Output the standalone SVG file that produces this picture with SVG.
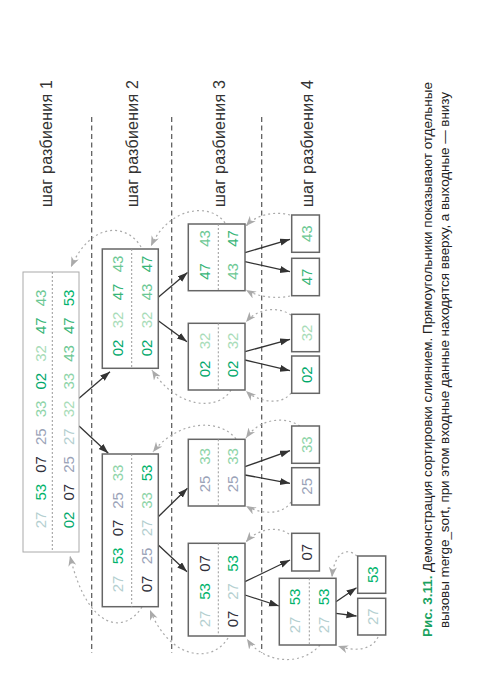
<svg xmlns="http://www.w3.org/2000/svg" width="500" height="700" viewBox="0 0 500 700">
<style>
.n{font-family:"Liberation Sans",Arial,sans-serif;font-size:15px;text-anchor:middle;dominant-baseline:central}
.lbl{font-family:"Liberation Sans",Arial,sans-serif;font-size:16px;fill:#333}
.cap{font-family:"Liberation Sans",Arial,sans-serif;font-size:13.5px;fill:#222}
.b1{fill:#fff;stroke:#aaa;stroke-width:1}
.b{fill:#fff;stroke:#666;stroke-width:1.5}
.dv{stroke:#999;stroke-width:1;stroke-dasharray:2 2}
.sep{stroke:#555;stroke-width:1.2;stroke-dasharray:5 3.5;fill:none}
.ar{stroke:#333;stroke-width:1.3;fill:none;marker-end:url(#ah)}
.rt{stroke:#aaa;stroke-width:1.2;stroke-dasharray:2 3;fill:none;marker-end:url(#gh)}
.c02{fill:#00a86b}.c07{fill:#2f2f3a}.c25{fill:#9aa3b8}.c27{fill:#b4cfd0}.c32{fill:#a8dcb8}.c33{fill:#8ed4a8}.c43{fill:#6cc894}.c47{fill:#36b577}.c53{fill:#00b36b}
</style>
<defs>
<marker id="ah" markerUnits="userSpaceOnUse" markerWidth="11" markerHeight="8" refX="10" refY="3.5" orient="auto"><path d="M0,0 L10,3.5 L0,7 z" fill="#333"/></marker>
<marker id="gh" markerUnits="userSpaceOnUse" markerWidth="11" markerHeight="9" refX="10" refY="4" orient="auto"><path d="M0,0 L10,4 L0,8 L3,4 z" fill="#aaa"/></marker>
</defs>
<rect width="500" height="700" fill="#fff"/>
<g id="separators">
<line class="sep" x1="91.7" y1="117" x2="91.7" y2="653"/>
<line class="sep" x1="171.7" y1="117" x2="171.7" y2="653"/>
<line class="sep" x1="261.7" y1="117" x2="261.7" y2="653"/>
</g>
<g id="labels">
<text class="lbl" transform="translate(51.7,207) rotate(-90)" textLength="127">шаг разбиения 1</text>
<text class="lbl" transform="translate(138.3,207) rotate(-90)" textLength="127">шаг разбиения 2</text>
<text class="lbl" transform="translate(225,207) rotate(-90)" textLength="127">шаг разбиения 3</text>
<text class="lbl" transform="translate(313.3,207) rotate(-90)" textLength="127">шаг разбиения 4</text>
</g>
<g id="connectors">
<path class="ar" d="M79,398.3 L110,371.7"/>
<path class="ar" d="M79,426 L108.3,453.3"/>
<path class="ar" d="M158.3,297.3 L187.5,272.5"/>
<path class="ar" d="M158.3,320.7 L187,341.7"/>
<path class="ar" d="M158.3,516.7 L187.5,488.3"/>
<path class="ar" d="M158.3,545 L187,571.7"/>
<path class="ar" d="M245,252.7 L290,239.3"/>
<path class="ar" d="M245,261.7 L290,271.7"/>
<path class="ar" d="M245,351.7 L290,339.3"/>
<path class="ar" d="M245,360 L290,370.7"/>
<path class="ar" d="M245,466.7 L290,450.7"/>
<path class="ar" d="M245,475 L290,483.3"/>
<path class="ar" d="M245,581.7 L290,560"/>
<path class="ar" d="M245,595 L279,606"/>
<path class="ar" d="M336,601.7 L356.5,587.7"/>
<path class="ar" d="M336,613.3 L356.5,616"/>
<path class="rt" d="M141,247 C128,224 92,220 71,267"/>
<path class="rt" d="M225,223 C212,203 170,205 151,246"/>
<path class="rt" d="M290,215 C275,211 257,214 246,226"/>
<path class="rt" d="M290,296 C276,299 258,297 246,290"/>
<path class="rt" d="M291,315 C278,306 258,308 246,322"/>
<path class="rt" d="M291,393 C282,406 258,402 246,391"/>
<path class="rt" d="M231,390 C218,412 176,408 152,370"/>
<path class="rt" d="M236,439 C220,418 178,420 153,452"/>
<path class="rt" d="M300,426 C285,416 260,418 246,438"/>
<path class="rt" d="M291,502 C282,516 260,514 246,506"/>
<path class="rt" d="M289,534 C278,526 258,528 246,542"/>
<path class="rt" d="M357,556 C346,546 334,554 332,577"/>
<path class="rt" d="M378,637 C372,650 355,652 338,646"/>
<path class="rt" d="M320,645 C300,668 262,662 247,639"/>
<path class="rt" d="M228,638 C212,664 170,660 150,610"/>
<path class="rt" d="M142,607 C125,634 88,632 70,556"/>
</g>
<g id="n1">
<rect class="b1" x="23" y="272" width="56" height="280"/>
<line class="dv" x1="52.3" y1="272" x2="52.3" y2="552"/>
<text class="n c27" transform="translate(40,520) rotate(-90)">27</text>
<text class="n c53" transform="translate(40,492.25) rotate(-90)">53</text>
<text class="n c07" transform="translate(40,464.5) rotate(-90)">07</text>
<text class="n c25" transform="translate(40,436.75) rotate(-90)">25</text>
<text class="n c33" transform="translate(40,409) rotate(-90)">33</text>
<text class="n c02" transform="translate(40,381.25) rotate(-90)">02</text>
<text class="n c32" transform="translate(40,353.5) rotate(-90)">32</text>
<text class="n c47" transform="translate(40,325.75) rotate(-90)">47</text>
<text class="n c43" transform="translate(40,298) rotate(-90)">43</text>
<text class="n c02" transform="translate(68.5,520) rotate(-90)">02</text>
<text class="n c07" transform="translate(68.5,492.25) rotate(-90)">07</text>
<text class="n c25" transform="translate(68.5,464.5) rotate(-90)">25</text>
<text class="n c27" transform="translate(68.5,436.75) rotate(-90)">27</text>
<text class="n c32" transform="translate(68.5,409) rotate(-90)">32</text>
<text class="n c33" transform="translate(68.5,381.25) rotate(-90)">33</text>
<text class="n c43" transform="translate(68.5,353.5) rotate(-90)">43</text>
<text class="n c47" transform="translate(68.5,325.75) rotate(-90)">47</text>
<text class="n c53" transform="translate(68.5,298) rotate(-90)">53</text>
</g>
<g id="n2a">
<rect class="b" x="102.3" y="249" width="56" height="119.3"/>
<line class="dv" x1="131.7" y1="249" x2="131.7" y2="368.3"/>
<text class="n c02" transform="translate(117.5,348) rotate(-90)">02</text>
<text class="n c32" transform="translate(117.5,320) rotate(-90)">32</text>
<text class="n c47" transform="translate(117.5,292) rotate(-90)">47</text>
<text class="n c43" transform="translate(117.5,264) rotate(-90)">43</text>
<text class="n c02" transform="translate(146,348) rotate(-90)">02</text>
<text class="n c32" transform="translate(146,320) rotate(-90)">32</text>
<text class="n c43" transform="translate(146,292) rotate(-90)">43</text>
<text class="n c47" transform="translate(146,264) rotate(-90)">47</text>
</g>
<g id="n2b">
<rect class="b" x="102.3" y="454" width="56" height="152.7"/>
<line class="dv" x1="131.7" y1="454" x2="131.7" y2="606.7"/>
<text class="n c27" transform="translate(117.5,584) rotate(-90)">27</text>
<text class="n c53" transform="translate(117.5,556) rotate(-90)">53</text>
<text class="n c07" transform="translate(117.5,528) rotate(-90)">07</text>
<text class="n c25" transform="translate(117.5,500.5) rotate(-90)">25</text>
<text class="n c33" transform="translate(117.5,473) rotate(-90)">33</text>
<text class="n c07" transform="translate(146,584) rotate(-90)">07</text>
<text class="n c25" transform="translate(146,556) rotate(-90)">25</text>
<text class="n c27" transform="translate(146,528) rotate(-90)">27</text>
<text class="n c33" transform="translate(146,500.5) rotate(-90)">33</text>
<text class="n c53" transform="translate(146,473) rotate(-90)">53</text>
</g>
<g id="n3a">
<rect class="b" x="188.3" y="224" width="56.7" height="66.7"/>
<line class="dv" x1="218.3" y1="224" x2="218.3" y2="290.7"/>
<text class="n c47" transform="translate(204,271.5) rotate(-90)">47</text>
<text class="n c43" transform="translate(204,238.5) rotate(-90)">43</text>
<text class="n c43" transform="translate(232.5,271.5) rotate(-90)">43</text>
<text class="n c47" transform="translate(232.5,238.5) rotate(-90)">47</text>
</g>
<g id="n3b">
<rect class="b" x="188.3" y="323.3" width="56.7" height="66.7"/>
<line class="dv" x1="218.3" y1="323.3" x2="218.3" y2="390"/>
<text class="n c02" transform="translate(204,369) rotate(-90)">02</text>
<text class="n c32" transform="translate(204,341) rotate(-90)">32</text>
<text class="n c02" transform="translate(232.5,369) rotate(-90)">02</text>
<text class="n c32" transform="translate(232.5,341) rotate(-90)">32</text>
</g>
<g id="n3c">
<rect class="b" x="188.3" y="439.3" width="56.7" height="66.7"/>
<line class="dv" x1="218.3" y1="439.3" x2="218.3" y2="506"/>
<text class="n c25" transform="translate(204,484) rotate(-90)">25</text>
<text class="n c33" transform="translate(204,456.5) rotate(-90)">33</text>
<text class="n c25" transform="translate(232.5,484) rotate(-90)">25</text>
<text class="n c33" transform="translate(232.5,456.5) rotate(-90)">33</text>
</g>
<g id="n3d">
<rect class="b" x="188.3" y="543.3" width="56.7" height="92.7"/>
<line class="dv" x1="218.3" y1="543.3" x2="218.3" y2="636"/>
<text class="n c27" transform="translate(204,619) rotate(-90)">27</text>
<text class="n c53" transform="translate(204,591.5) rotate(-90)">53</text>
<text class="n c07" transform="translate(204,563.5) rotate(-90)">07</text>
<text class="n c07" transform="translate(232.5,619) rotate(-90)">07</text>
<text class="n c27" transform="translate(232.5,591.5) rotate(-90)">27</text>
<text class="n c53" transform="translate(232.5,563.5) rotate(-90)">53</text>
</g>
<g id="n4a"><rect class="b" x="291.7" y="215" width="27.7" height="37.3"/><text class="n c43" transform="translate(306,233.7) rotate(-90)">43</text></g>
<g id="n4b"><rect class="b" x="291.7" y="258.3" width="27.7" height="37.4"/><text class="n c47" transform="translate(306,277) rotate(-90)">47</text></g>
<g id="n4c"><rect class="b" x="291.7" y="314.3" width="27.7" height="37.4"/><text class="n c32" transform="translate(306,333) rotate(-90)">32</text></g>
<g id="n4d"><rect class="b" x="291.7" y="356" width="27.7" height="37.3"/><text class="n c02" transform="translate(306,374.7) rotate(-90)">02</text></g>
<g id="n4e"><rect class="b" x="291.7" y="426" width="27.7" height="37.3"/><text class="n c33" transform="translate(306,444.7) rotate(-90)">33</text></g>
<g id="n4f"><rect class="b" x="291.7" y="467.7" width="27.7" height="37.3"/><text class="n c25" transform="translate(306,486.3) rotate(-90)">25</text></g>
<g id="n4g"><rect class="b" x="291.7" y="533.3" width="27.7" height="37.7"/><text class="n c07" transform="translate(306,552.2) rotate(-90)">07</text></g>
<g id="n4h">
<rect class="b" x="279.3" y="578.3" width="56.7" height="66.7"/>
<line class="dv" x1="309.3" y1="578.3" x2="309.3" y2="645"/>
<text class="n c27" transform="translate(294,625) rotate(-90)">27</text>
<text class="n c53" transform="translate(294,597) rotate(-90)">53</text>
<text class="n c27" transform="translate(323,625) rotate(-90)">27</text>
<text class="n c53" transform="translate(323,597) rotate(-90)">53</text>
</g>
<g id="n5a"><rect class="b" x="357.7" y="556" width="28" height="37.3"/><text class="n c53" transform="translate(372,574.7) rotate(-90)">53</text></g>
<g id="n5b"><rect class="b" x="357.7" y="598.3" width="28" height="36.7"/><text class="n c27" transform="translate(372,616.7) rotate(-90)">27</text></g>
<g id="caption">
<text class="cap" transform="translate(432,637) rotate(-90)" textLength="555"><tspan font-weight="bold" fill="#1aa260">Рис. 3.11.</tspan> Демонстрация сортировки слиянием. Прямоугольники показывают отдельные</text>
<text class="cap" transform="translate(448.5,628) rotate(-90)" textLength="536">вызовы merge_sort, при этом входные данные находятся вверху, а выходные — внизу</text>
</g>
</svg>
